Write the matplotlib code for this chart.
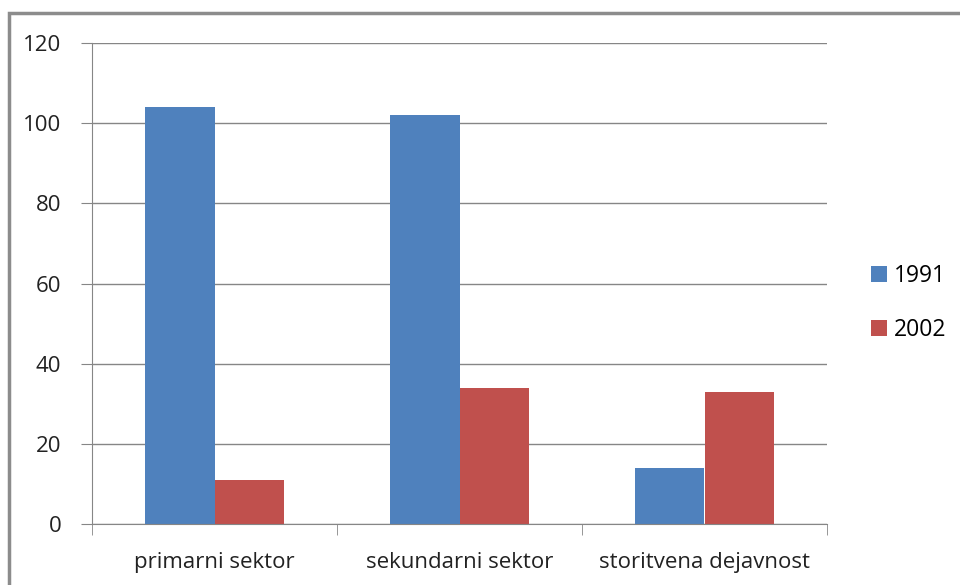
import matplotlib
matplotlib.use("Agg")
import matplotlib.pyplot as plt
from matplotlib.patches import Rectangle
import numpy as np

categories = ["primarni sektor", "sekundarni sektor", "storitvena dejavnost"]
series_names = ["1991", "2002"]
values_1991 = [104, 102, 14]
values_2002 = [11, 34, 33]
yticks = [0, 20, 40, 60, 80, 100, 120]

plt.rcParams['font.family'] = ['Open Sans', 'DejaVu Sans']

W, H = 960, 585
fig = plt.figure(figsize=(W / 100, H / 100), dpi=100)
fig.patches.append(Rectangle((9 / W, -0.1), 1.2, (H - 13) / H + 0.1, transform=fig.transFigure,
                             fill=False, edgecolor="#8c8c8c", linewidth=2.5))

ax = fig.add_axes([92 / W, 1 - 524 / H, (827 - 92) / W, (524 - 43) / H])
x = np.arange(len(categories))
bw = 0.285
b1 = ax.bar(x - bw / 2, values_1991, bw, color="#4F81BD", label=series_names[0])
b2 = ax.bar(x + bw / 2, values_2002, bw, color="#C0504D", label=series_names[1])

ax.set_xlim(-0.5, len(categories) - 0.5)
ax.set_ylim(0, 120)
ax.set_yticks(yticks)
ax.set_yticklabels([str(t) for t in yticks], fontsize=16, color="#222222")
ax.yaxis.grid(True, color="#868686", linewidth=1)
ax.set_axisbelow(True)
for s in ["top", "right"]:
    ax.spines[s].set_visible(False)
ax.spines["left"].set_color("#868686")
ax.spines["bottom"].set_color("#868686")
ax.tick_params(axis="y", length=8, color="#868686", pad=14)
ax.set_xticks(x)
ax.set_xticklabels(categories, fontsize=16, color="#222222")
ax.tick_params(axis="x", length=0, pad=20)
ax.set_xticks(np.arange(len(categories) + 1) - 0.5, minor=True)
ax.tick_params(axis="x", which="minor", length=8, color="#868686")

leg = fig.legend(handles=[b1, b2], labels=series_names, loc="center left",
                 bbox_to_anchor=(850 / W, 1 - 303 / H), frameon=False, fontsize=16.5,
                 handlelength=0.7, handleheight=0.7, handletextpad=0.3, labelspacing=1.3)

fig.savefig("out.png", dpi=100)
